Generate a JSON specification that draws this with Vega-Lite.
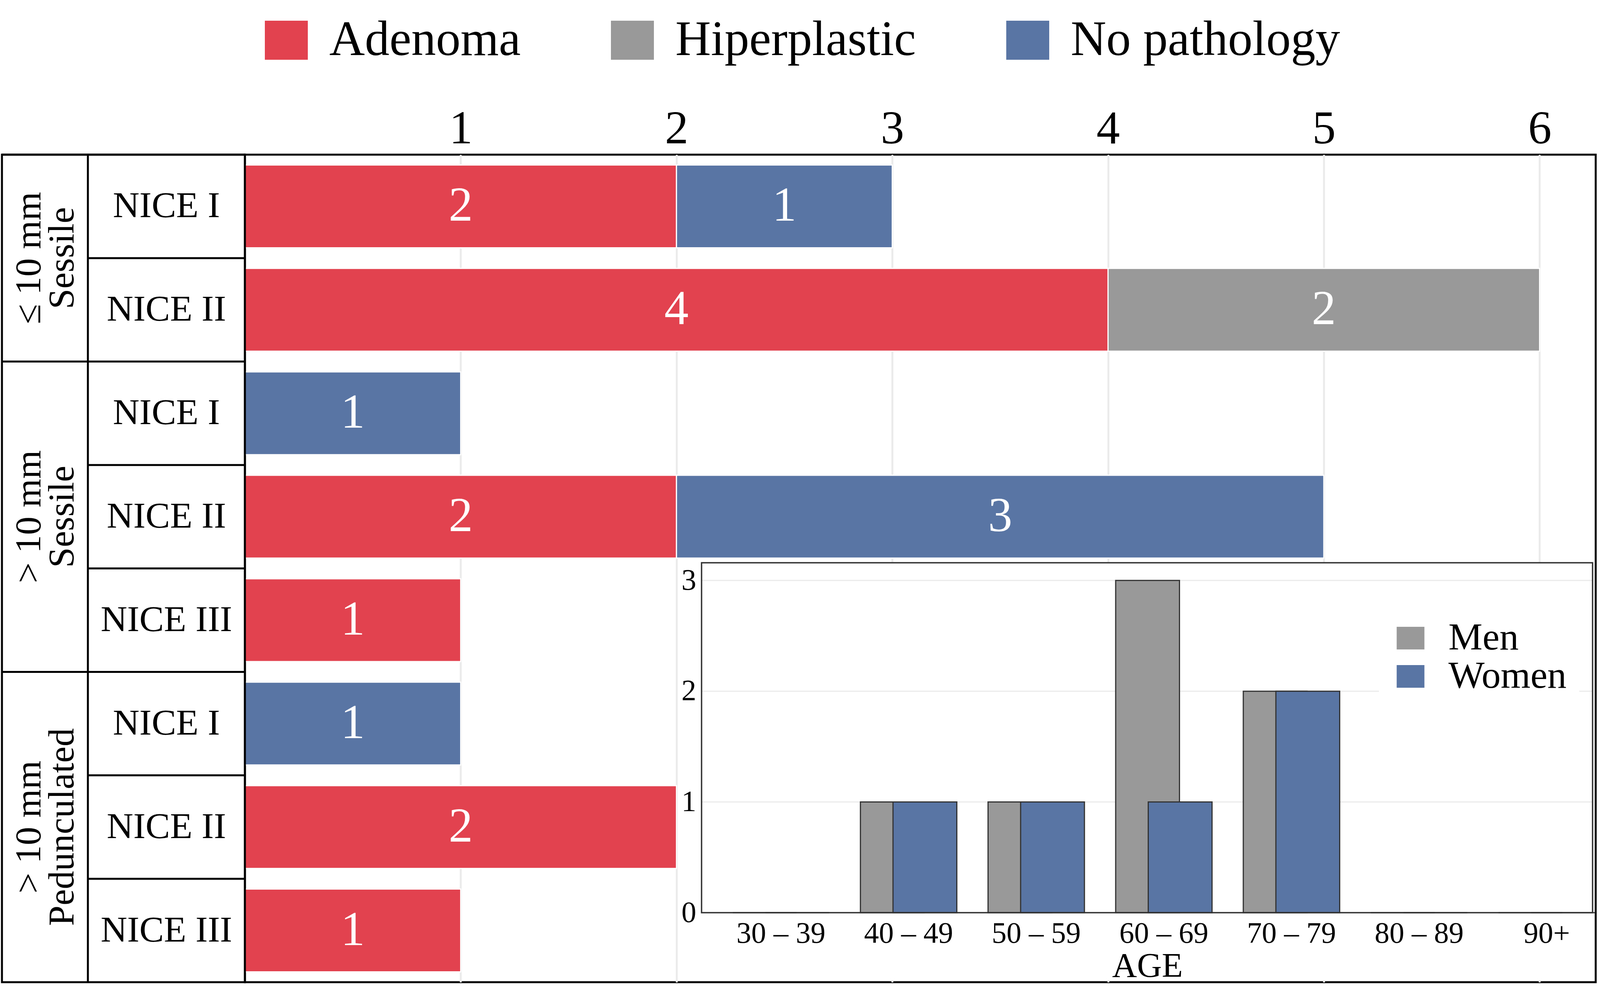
{
  "$schema": "https://vega.github.io/schema/vega-lite/v6.json",
  "width": 3458,
  "height": 2119,
  "autosize": {"type": "none"},
  "padding": {"left": 627, "top": 396, "right": 11, "bottom": 20},
  "background": "white",
  "view": {"stroke": "black", "strokeWidth": 5},
  "config": {
    "font": "Liberation Serif",
    "axis": {"labelFont": "Liberation Serif", "titleFont": "Liberation Serif", "labelColor": "black", "titleColor": "black", "titleFontWeight": "normal"},
    "legend": {"labelFont": "Liberation Serif", "labelColor": "black"},
    "text": {"font": "Liberation Serif"}
  },
  "datasets": {
    "rows": [
      {"group": "≤ 10 mm Sessile", "nice": "NICE I", "row": "≤ 10 mm Sessile / NICE I"},
      {"group": "≤ 10 mm Sessile", "nice": "NICE II", "row": "≤ 10 mm Sessile / NICE II"},
      {"group": "> 10 mm Sessile", "nice": "NICE I", "row": "> 10 mm Sessile / NICE I"},
      {"group": "> 10 mm Sessile", "nice": "NICE II", "row": "> 10 mm Sessile / NICE II"},
      {"group": "> 10 mm Sessile", "nice": "NICE III", "row": "> 10 mm Sessile / NICE III"},
      {"group": "> 10 mm Pedunculated", "nice": "NICE I", "row": "> 10 mm Pedunculated / NICE I"},
      {"group": "> 10 mm Pedunculated", "nice": "NICE II", "row": "> 10 mm Pedunculated / NICE II"},
      {"group": "> 10 mm Pedunculated", "nice": "NICE III", "row": "> 10 mm Pedunculated / NICE III"}
    ],
    "groups": [
      {"line1": "≤ 10 mm", "line2": "Sessile", "row": "≤ 10 mm Sessile / NICE II", "span": 2},
      {"line1": "> 10 mm", "line2": "Sessile", "row": "> 10 mm Sessile / NICE II", "span": 3},
      {"line1": "> 10 mm", "line2": "Pedunculated", "row": "> 10 mm Pedunculated / NICE II", "span": 3}
    ],
    "pathology": [
      {"row": "≤ 10 mm Sessile / NICE I", "pathology": "Adenoma", "count": 2},
      {"row": "≤ 10 mm Sessile / NICE I", "pathology": "No pathology", "count": 1},
      {"row": "≤ 10 mm Sessile / NICE II", "pathology": "Adenoma", "count": 4},
      {"row": "≤ 10 mm Sessile / NICE II", "pathology": "Hiperplastic", "count": 2},
      {"row": "> 10 mm Sessile / NICE I", "pathology": "No pathology", "count": 1},
      {"row": "> 10 mm Sessile / NICE II", "pathology": "Adenoma", "count": 2},
      {"row": "> 10 mm Sessile / NICE II", "pathology": "No pathology", "count": 3},
      {"row": "> 10 mm Sessile / NICE III", "pathology": "Adenoma", "count": 1},
      {"row": "> 10 mm Pedunculated / NICE I", "pathology": "No pathology", "count": 1},
      {"row": "> 10 mm Pedunculated / NICE II", "pathology": "Adenoma", "count": 2},
      {"row": "> 10 mm Pedunculated / NICE III", "pathology": "Adenoma", "count": 1}
    ],
    "ages": [
      {"age": "30 – 39", "sex": "Men", "count": 0},
      {"age": "30 – 39", "sex": "Women", "count": 0},
      {"age": "40 – 49", "sex": "Men", "count": 1},
      {"age": "40 – 49", "sex": "Women", "count": 1},
      {"age": "50 – 59", "sex": "Men", "count": 1},
      {"age": "50 – 59", "sex": "Women", "count": 1},
      {"age": "60 – 69", "sex": "Men", "count": 3},
      {"age": "60 – 69", "sex": "Women", "count": 1},
      {"age": "70 – 79", "sex": "Men", "count": 2},
      {"age": "70 – 79", "sex": "Women", "count": 2},
      {"age": "80 – 89", "sex": "Men", "count": 0},
      {"age": "80 – 89", "sex": "Women", "count": 0},
      {"age": "90+", "sex": "Men", "count": 0},
      {"age": "90+", "sex": "Women", "count": 0}
    ],
    "frame": [{"box": "frame"}],
    "ticks": [{"tick": 1}, {"tick": 2}, {"tick": 3}]
  },
  "resolve": {"scale": {"x": "independent", "y": "independent"}},
  "layer": [
    {
      "data": {"name": "pathology"},
      "layer": [
        {
          "mark": {"type": "bar", "stroke": "white", "strokeWidth": 3},
          "encoding": {
            "y": {"field": "row", "type": "nominal", "scale": {"domain": ["≤ 10 mm Sessile / NICE I", "≤ 10 mm Sessile / NICE II", "> 10 mm Sessile / NICE I", "> 10 mm Sessile / NICE II", "> 10 mm Sessile / NICE III", "> 10 mm Pedunculated / NICE I", "> 10 mm Pedunculated / NICE II", "> 10 mm Pedunculated / NICE III"], "paddingInner": 0.2, "paddingOuter": 0.1}, "axis": null},
            "x": {"field": "count", "type": "quantitative", "stack": "zero", "scale": {"domain": [0, 6.26], "nice": false, "zero": false}, "axis": {"orient": "top", "values": [1, 2, 3, 4, 5, 6], "format": "d", "grid": true, "gridColor": "#ebebeb", "gridWidth": 5, "domain": false, "ticks": false, "labelFontSize": 120, "labelPadding": 5, "labelDx": -18, "labelFlush": false, "labelOverlap": false, "title": null}},
            "color": {"field": "pathology", "type": "nominal", "scale": {"domain": ["Adenoma", "Hiperplastic", "No pathology"], "range": ["#E2424F", "#999999", "#5975A4"]}, "legend": {"orient": "none", "legendX": 43, "legendY": -356, "direction": "horizontal", "columns": 3, "title": null, "symbolType": "M-1,-0.909L1,-0.909L1,0.909L-1,0.909Z", "symbolSize": 12100, "symbolStrokeWidth": 0, "labelFontSize": 126, "labelOffset": 47, "columnPadding": 223, "padding": 0, "labelLimit": 2000}},
            "order": {"field": "pathology", "type": "ordinal", "sort": "ascending"}
          }
        },
        {
          "mark": {"type": "text", "color": "white", "fontSize": 124, "align": "center", "baseline": "middle"},
          "encoding": {
            "y": {"field": "row", "type": "nominal", "scale": {"domain": ["≤ 10 mm Sessile / NICE I", "≤ 10 mm Sessile / NICE II", "> 10 mm Sessile / NICE I", "> 10 mm Sessile / NICE II", "> 10 mm Sessile / NICE III", "> 10 mm Pedunculated / NICE I", "> 10 mm Pedunculated / NICE II", "> 10 mm Pedunculated / NICE III"], "paddingInner": 0.2, "paddingOuter": 0.1}, "axis": null},
            "x": {"field": "count", "type": "quantitative", "stack": "zero", "bandPosition": 0.5, "scale": {"domain": [0, 6.26], "nice": false, "zero": false}, "axis": {"orient": "top", "values": [1, 2, 3, 4, 5, 6], "format": "d", "grid": true, "gridColor": "#ebebeb", "gridWidth": 5, "domain": false, "ticks": false, "labelFontSize": 120, "labelPadding": 5, "labelDx": -18, "labelFlush": false, "labelOverlap": false, "title": null}},
            "detail": {"field": "pathology", "type": "nominal"},
            "order": {"field": "pathology", "type": "ordinal", "sort": "ascending"},
            "text": {"field": "count", "type": "quantitative"}
          }
        }
      ]
    },
    {
      "layer": [
        {
          "data": {"name": "frame"},
          "mark": {"type": "rect", "filled": false, "color": "black", "strokeWidth": 5},
          "encoding": {
            "x": {"datum": 0, "type": "quantitative", "scale": {"domain": [0, 622], "range": [-622, 0]}, "axis": null},
            "x2": {"datum": 622}
          }
        },
        {
          "data": {"name": "frame"},
          "mark": {"type": "rule", "color": "black", "strokeWidth": 5},
          "encoding": {
            "x": {"datum": 220, "type": "quantitative", "scale": {"domain": [0, 622], "range": [-622, 0]}, "axis": null}
          }
        },
        {
          "data": {"name": "rows"},
          "mark": {"type": "rule", "color": "black", "strokeWidth": 5},
          "encoding": {
            "x": {"datum": 220, "type": "quantitative", "scale": {"domain": [0, 622], "range": [-622, 0]}, "axis": null},
            "x2": {"datum": 622},
            "y": {"field": "row", "type": "nominal", "bandPosition": 0, "scale": {"domain": ["≤ 10 mm Sessile / NICE I", "≤ 10 mm Sessile / NICE II", "> 10 mm Sessile / NICE I", "> 10 mm Sessile / NICE II", "> 10 mm Sessile / NICE III", "> 10 mm Pedunculated / NICE I", "> 10 mm Pedunculated / NICE II", "> 10 mm Pedunculated / NICE III"], "paddingInner": 0, "paddingOuter": 0}, "axis": null}
          }
        },
        {
          "data": {"name": "rows"},
          "transform": [{"filter": "datum.nice === 'NICE I'"}],
          "mark": {"type": "rule", "color": "black", "strokeWidth": 5},
          "encoding": {
            "x": {"datum": 0, "type": "quantitative", "scale": {"domain": [0, 622], "range": [-622, 0]}, "axis": null},
            "x2": {"datum": 220},
            "y": {"field": "row", "type": "nominal", "bandPosition": 0, "scale": {"domain": ["≤ 10 mm Sessile / NICE I", "≤ 10 mm Sessile / NICE II", "> 10 mm Sessile / NICE I", "> 10 mm Sessile / NICE II", "> 10 mm Sessile / NICE III", "> 10 mm Pedunculated / NICE I", "> 10 mm Pedunculated / NICE II", "> 10 mm Pedunculated / NICE III"], "paddingInner": 0, "paddingOuter": 0}, "axis": null}
          }
        },
        {
          "data": {"name": "rows"},
          "mark": {"type": "text", "fontSize": 94, "align": "center", "baseline": "middle", "color": "black"},
          "encoding": {
            "x": {"datum": 421, "type": "quantitative", "scale": {"domain": [0, 622], "range": [-622, 0]}, "axis": null},
            "y": {"field": "row", "type": "nominal", "scale": {"domain": ["≤ 10 mm Sessile / NICE I", "≤ 10 mm Sessile / NICE II", "> 10 mm Sessile / NICE I", "> 10 mm Sessile / NICE II", "> 10 mm Sessile / NICE III", "> 10 mm Pedunculated / NICE I", "> 10 mm Pedunculated / NICE II", "> 10 mm Pedunculated / NICE III"], "paddingInner": 0, "paddingOuter": 0}, "axis": null},
            "text": {"field": "nice", "type": "nominal"}
          }
        },
        {
          "data": {"name": "groups"},
          "transform": [{"filter": "datum.span === 2"}],
          "mark": {"type": "text", "angle": 270, "fontSize": 94, "align": "center", "baseline": "middle", "color": "black"},
          "encoding": {
            "x": {"datum": 70, "type": "quantitative", "scale": {"domain": [0, 622], "range": [-622, 0]}, "axis": null},
            "y": {"field": "row", "type": "nominal", "bandPosition": 0, "scale": {"domain": ["≤ 10 mm Sessile / NICE I", "≤ 10 mm Sessile / NICE II", "> 10 mm Sessile / NICE I", "> 10 mm Sessile / NICE II", "> 10 mm Sessile / NICE III", "> 10 mm Pedunculated / NICE I", "> 10 mm Pedunculated / NICE II", "> 10 mm Pedunculated / NICE III"], "paddingInner": 0, "paddingOuter": 0}, "axis": null},
            "text": {"field": "line1", "type": "nominal"}
          }
        },
        {
          "data": {"name": "groups"},
          "transform": [{"filter": "datum.span === 2"}],
          "mark": {"type": "text", "angle": 270, "fontSize": 94, "align": "center", "baseline": "middle", "color": "black"},
          "encoding": {
            "x": {"datum": 155, "type": "quantitative", "scale": {"domain": [0, 622], "range": [-622, 0]}, "axis": null},
            "y": {"field": "row", "type": "nominal", "bandPosition": 0, "scale": {"domain": ["≤ 10 mm Sessile / NICE I", "≤ 10 mm Sessile / NICE II", "> 10 mm Sessile / NICE I", "> 10 mm Sessile / NICE II", "> 10 mm Sessile / NICE III", "> 10 mm Pedunculated / NICE I", "> 10 mm Pedunculated / NICE II", "> 10 mm Pedunculated / NICE III"], "paddingInner": 0, "paddingOuter": 0}, "axis": null},
            "text": {"field": "line2", "type": "nominal"}
          }
        },
        {
          "data": {"name": "groups"},
          "transform": [{"filter": "datum.span === 3"}],
          "mark": {"type": "text", "angle": 270, "fontSize": 94, "align": "center", "baseline": "middle", "color": "black"},
          "encoding": {
            "x": {"datum": 70, "type": "quantitative", "scale": {"domain": [0, 622], "range": [-622, 0]}, "axis": null},
            "y": {"field": "row", "type": "nominal", "scale": {"domain": ["≤ 10 mm Sessile / NICE I", "≤ 10 mm Sessile / NICE II", "> 10 mm Sessile / NICE I", "> 10 mm Sessile / NICE II", "> 10 mm Sessile / NICE III", "> 10 mm Pedunculated / NICE I", "> 10 mm Pedunculated / NICE II", "> 10 mm Pedunculated / NICE III"], "paddingInner": 0, "paddingOuter": 0}, "axis": null},
            "text": {"field": "line1", "type": "nominal"}
          }
        },
        {
          "data": {"name": "groups"},
          "transform": [{"filter": "datum.span === 3"}],
          "mark": {"type": "text", "angle": 270, "fontSize": 94, "align": "center", "baseline": "middle", "color": "black"},
          "encoding": {
            "x": {"datum": 155, "type": "quantitative", "scale": {"domain": [0, 622], "range": [-622, 0]}, "axis": null},
            "y": {"field": "row", "type": "nominal", "scale": {"domain": ["≤ 10 mm Sessile / NICE I", "≤ 10 mm Sessile / NICE II", "> 10 mm Sessile / NICE I", "> 10 mm Sessile / NICE II", "> 10 mm Sessile / NICE III", "> 10 mm Pedunculated / NICE I", "> 10 mm Pedunculated / NICE II", "> 10 mm Pedunculated / NICE III"], "paddingInner": 0, "paddingOuter": 0}, "axis": null},
            "text": {"field": "line2", "type": "nominal"}
          }
        }
      ]
    },
    {
      "resolve": {"scale": {"x": "independent"}},
      "layer": [
        {
          "data": {"name": "frame"},
          "mark": {"type": "rect", "color": "white"},
          "encoding": {
            "x": {"datum": 0, "type": "quantitative", "scale": {"domain": [0, 1], "range": [1169, 3450]}, "axis": null},
            "x2": {"datum": 1},
            "y": {"datum": 3.16, "type": "quantitative", "scale": {"domain": [0, 3.16], "nice": false, "range": [1941, 1045]}, "axis": {"orient": "left", "offset": -1169, "values": [0, 1, 2, 3], "format": "d", "grid": false, "domain": false, "ticks": false, "labelFontSize": 76, "labelPadding": 14, "title": null, "zindex": 1}},
            "y2": {"datum": -0.61}
          }
        },
        {
          "data": {"name": "ticks"},
          "mark": {"type": "rule", "color": "#ebebeb", "strokeWidth": 3},
          "encoding": {
            "x": {"datum": 0, "type": "quantitative", "scale": {"domain": [0, 1], "range": [1169, 3450]}, "axis": null},
            "x2": {"datum": 1},
            "y": {"field": "tick", "type": "quantitative", "scale": {"domain": [0, 3.16], "nice": false, "range": [1941, 1045]}, "axis": {"orient": "left", "offset": -1169, "values": [0, 1, 2, 3], "format": "d", "grid": false, "domain": false, "ticks": false, "labelFontSize": 76, "labelPadding": 14, "title": null, "zindex": 1}}
          }
        },
        {
          "data": {"name": "ages"},
          "transform": [{"filter": "datum.sex === 'Men'"}],
          "mark": {"type": "bar", "width": {"band": 0.5}, "xOffset": -41.7, "stroke": "#333333", "strokeWidth": 3},
          "encoding": {
            "x": {"field": "age", "type": "nominal", "sort": ["30 – 39", "40 – 49", "50 – 59", "60 – 69", "70 – 79", "80 – 89", "90+"], "scale": {"domain": ["30 – 39", "40 – 49", "50 – 59", "60 – 69", "70 – 79", "80 – 89", "90+"], "range": [1209, 3496], "paddingInner": 0, "paddingOuter": 0}, "axis": {"orient": "bottom", "offset": -178, "domain": false, "ticks": false, "grid": false, "labelFontSize": 76, "labelPadding": 16, "labelAngle": 0, "labelLimit": 1000, "title": "AGE", "titleFontSize": 88, "titlePadding": 2, "titleX": 2310, "zindex": 1}},
            "y": {"field": "count", "type": "quantitative", "scale": {"domain": [0, 3.16], "nice": false, "range": [1941, 1045]}, "axis": {"orient": "left", "offset": -1169, "values": [0, 1, 2, 3], "format": "d", "grid": false, "domain": false, "ticks": false, "labelFontSize": 76, "labelPadding": 14, "title": null, "zindex": 1}},
            "fill": {"field": "sex", "type": "nominal", "scale": {"domain": ["Men", "Women"], "range": ["#999999", "#5975A4"]}, "legend": {"orient": "none", "legendX": 2903, "legendY": 1157, "direction": "vertical", "title": null, "symbolType": "M-1,-0.817L1,-0.817L1,0.817L-1,0.817Z", "symbolSize": 5041, "symbolStrokeWidth": 0, "labelFontSize": 98, "labelOffset": 48, "rowPadding": -1, "fillColor": "white", "padding": 32, "labelLimit": 1000}}
          }
        },
        {
          "data": {"name": "ages"},
          "transform": [{"filter": "datum.sex === 'Women'"}],
          "mark": {"type": "bar", "width": {"band": 0.5}, "xOffset": 41.7, "stroke": "#333333", "strokeWidth": 3},
          "encoding": {
            "x": {"field": "age", "type": "nominal", "sort": ["30 – 39", "40 – 49", "50 – 59", "60 – 69", "70 – 79", "80 – 89", "90+"], "scale": {"domain": ["30 – 39", "40 – 49", "50 – 59", "60 – 69", "70 – 79", "80 – 89", "90+"], "range": [1209, 3496], "paddingInner": 0, "paddingOuter": 0}, "axis": null},
            "y": {"field": "count", "type": "quantitative", "scale": {"domain": [0, 3.16], "nice": false, "range": [1941, 1045]}, "axis": {"orient": "left", "offset": -1169, "values": [0, 1, 2, 3], "format": "d", "grid": false, "domain": false, "ticks": false, "labelFontSize": 76, "labelPadding": 14, "title": null, "zindex": 1}},
            "fill": {"field": "sex", "type": "nominal", "scale": {"domain": ["Men", "Women"], "range": ["#999999", "#5975A4"]}, "legend": {"orient": "none", "legendX": 2903, "legendY": 1157, "direction": "vertical", "title": null, "symbolType": "M-1,-0.817L1,-0.817L1,0.817L-1,0.817Z", "symbolSize": 5041, "symbolStrokeWidth": 0, "labelFontSize": 98, "labelOffset": 48, "rowPadding": -1, "fillColor": "white", "padding": 32, "labelLimit": 1000}}
          }
        },
        {
          "data": {"name": "frame"},
          "mark": {"type": "rect", "filled": false, "color": "#333333", "strokeWidth": 3.5},
          "encoding": {
            "x": {"datum": 0, "type": "quantitative", "scale": {"domain": [0, 1], "range": [1169, 3450]}, "axis": null},
            "x2": {"datum": 1},
            "y": {"datum": 3.16, "type": "quantitative", "scale": {"domain": [0, 3.16], "nice": false, "range": [1941, 1045]}, "axis": {"orient": "left", "offset": -1169, "values": [0, 1, 2, 3], "format": "d", "grid": false, "domain": false, "ticks": false, "labelFontSize": 76, "labelPadding": 14, "title": null, "zindex": 1}},
            "y2": {"datum": 0}
          }
        }
      ]
    }
  ]
}
